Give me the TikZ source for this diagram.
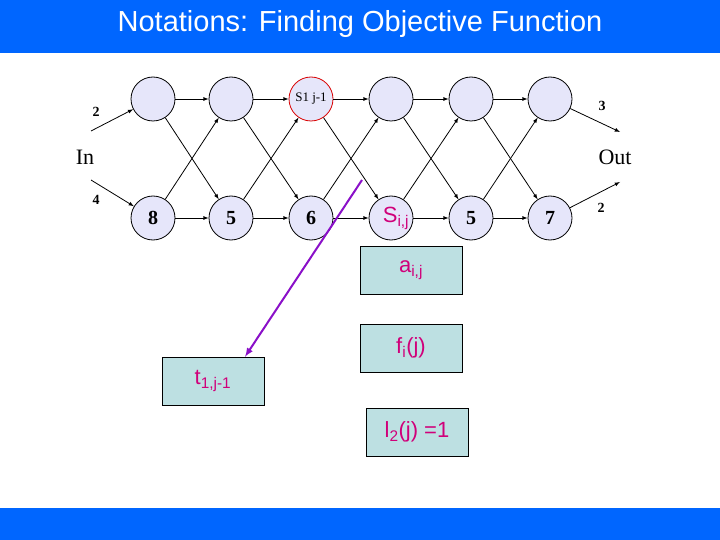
\documentclass[tikz,border=0pt]{standalone}
\usepackage{fontspec}
\setmainfont{Liberation Serif}
\newfontfamily\arialfont{Liberation Sans}
\definecolor{titleblue}{HTML}{0066FF}
\definecolor{nodefill}{HTML}{E6E6FA}
\definecolor{boxfill}{HTML}{BDE0E2}
\definecolor{pinktext}{HTML}{D0007A}
\definecolor{purpleline}{HTML}{8A10C8}
\newcommand{\sub}[1]{\textsubscript{#1}}
\tikzset{
  stage/.style={circle, draw=black, thick, fill=nodefill, minimum size=44pt, inner sep=0pt, font=\bfseries\fontsize{20}{20}\selectfont},
  redstage/.style={stage, draw=red!85!black},
  infobox/.style={rectangle, draw=black, fill=boxfill, minimum width=102pt, minimum height=48pt, font=\arialfont\fontsize{22}{22}\selectfont, text=pinktext},
  arrow/.style={thick, ->, >=latex},
  weight/.style={font=\bfseries\fontsize{14}{14}\selectfont}
}
\begin{document}
\begin{tikzpicture}[x=1pt, y=-1pt]
    \useasboundingbox (0,0) rectangle (720,540);
    \fill[titleblue] (0,0) rectangle (720,53);
    \fill[titleblue] (0,508) rectangle (720,540);
    \node[text=white, font=\arialfont\fontsize{29}{29}\selectfont] (title) at (360,24) {Notations: Finding Objective Function};

    % the two lines of stations
    \foreach \i/\x in {1/153,2/231,3/311,4/391,5/471,6/550} {
      \ifnum\i=3
        \node (top\i) [redstage] at (\x,99) {};
      \else
        \node (top\i) [stage] at (\x,99) {};
      \fi
    }
    \node at (top3) {\fontsize{13}{13}\selectfont S1 j-1};
    \foreach \i/\x/\t in {1/153/8,2/231/5,3/311/6,4/391/{},5/471/5,6/550/7} {
      \node (bot\i) [stage] at (\x,218) {\t};
    }
    \node[text=pinktext, font=\arialfont\fontsize{22}{22}\selectfont] at ([xshift=5pt]bot4) {S\sub{i,j}};

    \foreach \i [evaluate=\i as \j using int(\i+1)] in {1,...,5} {
      \draw [arrow] (top\i) -- (top\j);
      \draw [arrow] (bot\i) -- (bot\j);
      \draw [arrow] (top\i) -- (bot\j);
      \draw [arrow] (bot\i) -- (top\j);
    }

    % entry and exit
    \node (in) at (85,157) {\fontsize{22}{22}\selectfont In};
    \node (out) at (615,157) {\fontsize{22}{22}\selectfont Out};
    \coordinate (intop) at (91,131);
    \coordinate (inbot) at (91,180);
    \coordinate (outtop) at (620,132);
    \coordinate (outbot) at (620,182);
    \draw [arrow] (intop) -- (top1);
    \draw [arrow] (inbot) -- (bot1);
    \draw [arrow] (top6) -- (outtop);
    \draw [arrow] (bot6) -- (outbot);
    \node[weight] at (96,112) {2};
    \node[weight] at (96,200) {4};
    \node[weight] at (602,106) {3};
    \node[weight] at (601,208) {2};

    % notation boxes
    \node (a) [infobox] at (411,270) {a\sub{i,j}};
    \node (f) [infobox] at (411,348) {f\sub{i}(j)};
    \node (t) [infobox] at (213,381) {t\sub{1,j-1}};
    \node (l) [infobox] at (417,432) {l\sub{2}(j) =1};
    \coordinate (cut) at (362,180);
    \draw [purpleline, line width=2pt, ->, >=latex] (cut) -- ([xshift=32pt]t.north);
\end{tikzpicture}
\end{document}
